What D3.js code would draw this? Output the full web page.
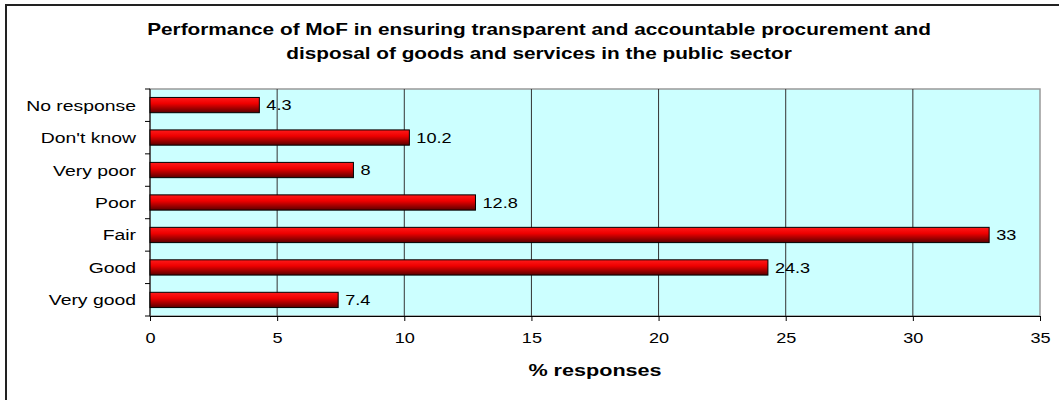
<!DOCTYPE html>
<html>
<head>
<meta charset="utf-8">
<script src="https://cdn.jsdelivr.net/npm/d3@7"></script>
<style>
  body { margin: 0; background: #fff; }
  text { font-family: "Liberation Sans", Arial, sans-serif; fill: #000; }
</style>
</head>
<body>
<div id="chart"></div>
<script>
var categories = ["No response", "Don't know", "Very poor", "Poor", "Fair", "Good", "Very good"];
var values = [4.3, 10.2, 8, 12.8, 33, 24.3, 7.4];
var xTicks = [0, 5, 10, 15, 20, 25, 30, 35];
var titleLines = ["Performance of MoF in ensuring transparent and accountable procurement and",
                  "disposal of goods and services in the public sector"];

var W = 1059, H = 400;
var margin = { top: 89, left: 150, right: 19, bottom: 84 };
var width = W - margin.left - margin.right,
    height = H - margin.top - margin.bottom;
var stretch = 1.25; // the original text is drawn wide

var svg = d3.select("#chart").append("svg")
  .attr("width", W).attr("height", H);

// outer chart frame
svg.append("rect")
  .attr("x", 6).attr("y", 5)
  .attr("width", W + 10).attr("height", H + 10)
  .attr("fill", "none").attr("stroke", "#222").attr("stroke-width", 2);

var defs = svg.append("defs");
var grad = defs.append("linearGradient")
  .attr("id", "barGrad").attr("x1", 0).attr("y1", 0).attr("x2", 0).attr("y2", 1);
grad.append("stop").attr("offset", "0%").attr("stop-color", "#ff1a1a");
grad.append("stop").attr("offset", "40%").attr("stop-color", "#ee0000");
grad.append("stop").attr("offset", "100%").attr("stop-color", "#5a0000");

var g = svg.append("g")
  .attr("transform", "translate(" + margin.left + "," + margin.top + ")");

var x = d3.scaleLinear().domain([0, 35]).range([0, width]);
var y = d3.scaleBand().domain(categories).range([0, height]).paddingInner(0.53).paddingOuter(0.26);
var yb = d3.scaleBand().domain(categories).range([0, height]);

function pos(px, py, s) {
  return "translate(" + px + "," + py + ") scale(" + (s || stretch) + ",1)";
}

// plot background
g.append("rect")
  .attr("width", width).attr("height", height)
  .attr("fill", "#ccffff").attr("stroke", "#999").attr("stroke-width", 1.5);

// gridlines
g.selectAll(".grid")
  .data(xTicks.slice(1, -1))
  .enter().append("line")
  .attr("x1", function(d) { return x(d); })
  .attr("x2", function(d) { return x(d); })
  .attr("y1", 0).attr("y2", height)
  .attr("stroke", "#333").attr("stroke-width", 1);

// x axis
var xAxis = g.append("g")
  .attr("transform", "translate(0," + height + ")")
  .call(d3.axisBottom(x).tickValues(xTicks).tickSize(5).tickPadding(12));
xAxis.select(".domain").attr("stroke", "#000");
xAxis.selectAll("line").attr("stroke", "#000");
xAxis.selectAll("text")
  .attr("font-size", 14.5)
  .style("font-family", "Liberation Sans, Arial, sans-serif")
  .attr("transform", "scale(" + stretch + ",1)");

// y axis line + ticks at band boundaries
g.append("line").attr("x1", 0).attr("x2", 0).attr("y1", 0).attr("y2", height).attr("stroke", "#000");
var bounds = categories.map(function(c) { return yb(c); }).concat([height]);
g.selectAll(".ytick")
  .data(bounds)
  .enter().append("line")
  .attr("x1", -5).attr("x2", 0)
  .attr("y1", function(d) { return d; }).attr("y2", function(d) { return d; })
  .attr("stroke", "#000");

g.selectAll(".ylabel")
  .data(categories)
  .enter().append("text")
  .attr("transform", function(d) { return pos(-14, yb(d) + yb.bandwidth() / 2); })
  .attr("dy", "0.35em")
  .attr("text-anchor", "end")
  .attr("font-size", 15.5)
  .text(function(d) { return d; });

// bars
g.selectAll(".bar")
  .data(values)
  .enter().append("rect")
  .attr("x", 0)
  .attr("y", function(d, i) { return y(categories[i]); })
  .attr("width", function(d) { return x(d); })
  .attr("height", y.bandwidth())
  .attr("fill", "url(#barGrad)")
  .attr("stroke", "#000").attr("stroke-width", 1);

// value labels
g.selectAll(".val")
  .data(values)
  .enter().append("text")
  .attr("transform", function(d, i) { return pos(x(d) + 7, y(categories[i]) + y.bandwidth() / 2); })
  .attr("dy", "0.35em")
  .attr("font-size", 14.5)
  .text(function(d) { return d; });

// title
svg.selectAll(".title")
  .data(titleLines)
  .enter().append("text")
  .attr("transform", function(d, i) { return pos(539, 35 + i * 24, 1.26); })
  .attr("text-anchor", "middle")
  .attr("font-size", 16.5)
  .attr("font-weight", "bold")
  .text(function(d) { return d; });

// x axis title
svg.append("text")
  .attr("transform", pos(margin.left + width / 2, 376, 1.27))
  .attr("text-anchor", "middle")
  .attr("font-size", 17)
  .attr("font-weight", "bold")
  .text("% responses");
</script>
</body>
</html>
